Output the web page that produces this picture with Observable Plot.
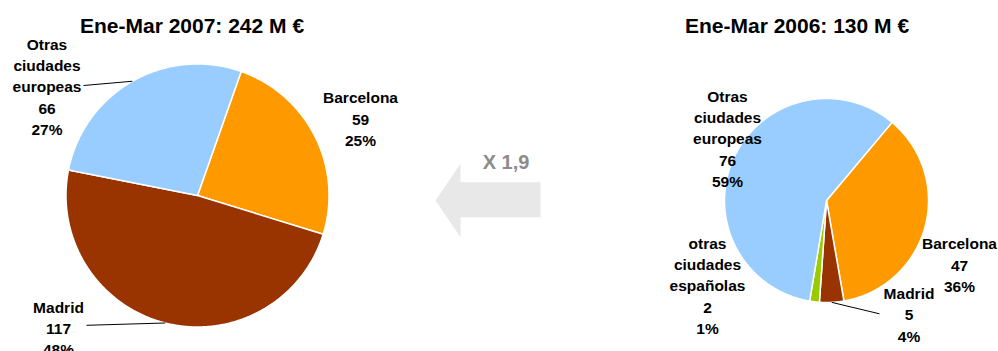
<!DOCTYPE html>
<html>
<head>
<meta charset="utf-8">
<script src="https://cdn.jsdelivr.net/npm/d3@7"></script>
<script src="https://cdn.jsdelivr.net/npm/@observablehq/plot@0.6"></script>
<style>
  html, body { margin: 0; padding: 0; background: #fff; }
  #chart { width: 998px; height: 351px; overflow: hidden; }
</style>
</head>
<body>
<div id="chart"></div>
<script>
// ---- data ----
const categories = ["Barcelona", "Madrid", "otras ciudades españolas", "Otras ciudades europeas"];
const values2007 = [59, 117, 0, 66];
const values2006 = [47, 5, 2, 76];
const pct2007 = ["25%", "48%", "", "27%"];
const pct2006 = ["36%", "4%", "1%", "59%"];
const labelNames = ["Barcelona", "Madrid", "otras\nciudades\nespañolas", "Otras\nciudades\neuropeas"];
const titles = ["Ene-Mar 2007: 242 M €", "Ene-Mar 2006: 130 M €"];
const growthLabel = "X 1,9";
const colors = ["#FF9900", "#993300", "#99CC00", "#99CCFF"];

// ---- layout ----
const W = 998, H = 351;
const FONT = "Liberation Sans, Arial, Helvetica, sans-serif";
const pies = [
  {key: "2007", values: values2007, pct: pct2007, cx: 197, cy: 195, r: 131.5, start: 19.4,
   labels: [
     {i: 0, x: 360, y: 117.3},
     {i: 1, x: 58, y: 326.7, leader: [86, 324.8]},
     {i: 3, x: 46.5, y: 85, leader: [83, 85]}
   ], title: {x: 191.5, y: 25.5}},
  {key: "2006", values: values2006, pct: pct2006, cx: 826, cy: 200, r: 102, start: 40,
   labels: [
     {i: 0, x: 959, y: 263.3},
     {i: 1, x: 908.5, y: 313, leader: [879, 313.3]},
     {i: 2, x: 707, y: 284},
     {i: 3, x: 727, y: 137}
   ], title: {x: 796.5, y: 25.5}}
];
const arrowShape = [[435, 200], [460, 163.3], [460, 181.7], [540, 181.7], [540, 216.7], [460, 216.7], [460, 236.7], [435, 200]];

// ---- derived geometry ----
const slicePts = [], leaders = [], labelRows = [], titleRows = [];
for (const p of pies) {
  const total = d3.sum(p.values);
  let a = p.start;
  const mids = [];
  p.values.forEach((v, i) => {
    const span = v / total * 360;
    mids.push(a + span / 2);
    if (v > 0) {
      const id = p.key + "-" + i;
      const steps = Math.max(4, Math.ceil(span * 2));
      slicePts.push({id, cat: categories[i], x: p.cx, y: p.cy});
      for (let s = 0; s <= steps; s++) {
        const t = (a + span * s / steps) * Math.PI / 180;
        slicePts.push({id, cat: categories[i], x: p.cx + p.r * Math.sin(t), y: p.cy - p.r * Math.cos(t)});
      }
      slicePts.push({id, cat: categories[i], x: p.cx, y: p.cy});
    }
    a += span;
  });
  for (const l of p.labels) {
    labelRows.push({x: l.x, y: l.y, text: labelNames[l.i] + "\n" + p.values[l.i] + "\n" + p.pct[l.i]});
    if (l.leader) {
      const t = mids[l.i] * Math.PI / 180;
      leaders.push({x1: p.cx + p.r * Math.sin(t), y1: p.cy - p.r * Math.cos(t), x2: l.leader[0], y2: l.leader[1]});
    }
  }
  titleRows.push({x: p.title.x, y: p.title.y, text: titles[pies.indexOf(p)]});
}
const arrowPts = arrowShape.map(([x, y]) => ({x, y}));

const chart = Plot.plot({
  width: W, height: H,
  margin: 0,
  style: {fontFamily: FONT, background: "#fff"},
  x: {domain: [0, W], range: [0, W], axis: null},
  y: {domain: [0, H], range: [0, H], axis: null},
  color: {domain: categories, range: colors},
  marks: [
    Plot.line(arrowPts, {x: "x", y: "y", fill: "#E8E8E8", stroke: "none", curve: "linear-closed"}),
    Plot.text([growthLabel], {x: () => 505.5, y: () => 161.8, text: d => d, fontSize: 20, fontWeight: "bold", fill: "#8C8C8C"}),
    Plot.line(slicePts, {x: "x", y: "y", z: "id", fill: "cat", stroke: "#fff", strokeWidth: 1.5, strokeLinejoin: "round", curve: "linear-closed"}),
    Plot.link(leaders, {x1: "x1", y1: "y1", x2: "x2", y2: "y2", stroke: "#000", strokeWidth: 1}),
    Plot.text(labelRows, {x: "x", y: "y", text: "text", fontSize: 15.5, fontWeight: "bold", lineHeight: 1.37, fill: "#000", lineAnchor: "middle"}),
    Plot.text(titleRows, {x: "x", y: "y", text: "text", fontSize: 21, fontWeight: "bold", fill: "#000"})
  ]
});
document.getElementById("chart").appendChild(chart);
</script>
</body>
</html>
